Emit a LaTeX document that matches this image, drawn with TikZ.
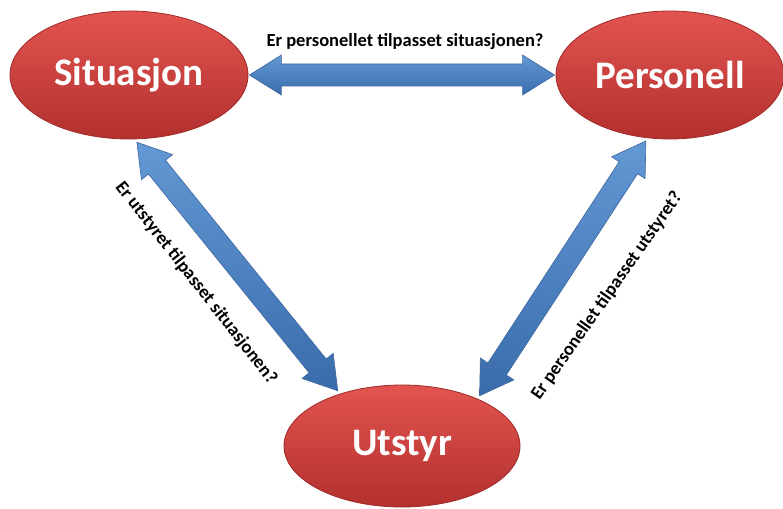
\documentclass[tikz,border=0pt]{standalone}
\usepackage{fontspec}
\setmainfont{Carlito}
\usetikzlibrary{shapes.geometric,calc}

\definecolor{redtop}{RGB}{226,84,80}
\definecolor{redbot}{RGB}{178,48,46}
\definecolor{redline}{RGB}{160,42,40}
\definecolor{bluetop}{RGB}{98,152,212}
\definecolor{bluebot}{RGB}{58,108,172}
\definecolor{blueline}{RGB}{62,102,160}

\tikzset{
  blob/.style={ellipse, top color=redtop, bottom color=redbot, draw=redline,
    line width=0.8pt, inner sep=0pt, text=white,
    font=\fontsize{39}{42}\selectfont\bfseries},
  question/.style={font=\fontsize{18.5}{20}\selectfont\bfseries, text=black, inner sep=0pt},
  linkarrow/.style={top color=bluetop, bottom color=bluebot, draw=blueline, line width=0.6pt, line join=miter}
}

% two-headed block arrow between two named points:
% head length 32pt, half shaft 11pt, half head 20pt
\newcommand\bothways[2]{%
  \shade[linkarrow] (#1)
    -- ($(#1)!32pt!(#2)!20pt!90:(#2)$)
    -- ($(#1)!32pt!(#2)!11pt!90:(#2)$)
    -- ($(#2)!32pt!(#1)!11pt!-90:(#1)$)
    -- ($(#2)!32pt!(#1)!20pt!-90:(#1)$)
    -- (#2)
    -- ($(#2)!32pt!(#1)!20pt!90:(#1)$)
    -- ($(#2)!32pt!(#1)!11pt!90:(#1)$)
    -- ($(#1)!32pt!(#2)!11pt!-90:(#2)$)
    -- ($(#1)!32pt!(#2)!20pt!-90:(#2)$)
    -- cycle;}

\begin{document}
\begin{tikzpicture}[x=1pt,y=-1pt]
  \useasboundingbox (0,0) rectangle (783,508);

  % the three elements
  \node[blob, minimum width=238pt, minimum height=128pt] (sit) at (129,75) {Situasjon};
  \node[blob, minimum width=228pt, minimum height=128pt] (per) at (670,75) {Personell};
  \node[blob, minimum width=236pt, minimum height=122pt] (uts) at (402,446) {Utstyr};

  % arrow end points on the ellipse borders
  \coordinate (sitE) at ($(sit.east)+(1,0)$);
  \coordinate (perW) at ($(per.west)+(-1,0)$);
  \coordinate (sitS) at ($(sit.-83)+(0,3)$);
  \coordinate (utsNW) at ($(uts.140)+(-2,-3)$);
  \coordinate (utsNE) at ($(uts.32)+(2,-3)$);
  \coordinate (perS) at ($(per.-111)+(0,3)$);

  \bothways{sitE}{perW}
  \bothways{sitS}{utsNW}
  \bothways{utsNE}{perS}

  % questions along the arrows
  \node[question] (q1) at (405,42) {Er personellet tilpasset situasjonen?};
  \node[question, rotate=-52] (q2) at (196,283) {Er utstyret tilpasset situasjonen?};
  \node[question, rotate=55] (q3) at (607,296) {Er personellet tilpasset utstyret?};
\end{tikzpicture}
\end{document}
